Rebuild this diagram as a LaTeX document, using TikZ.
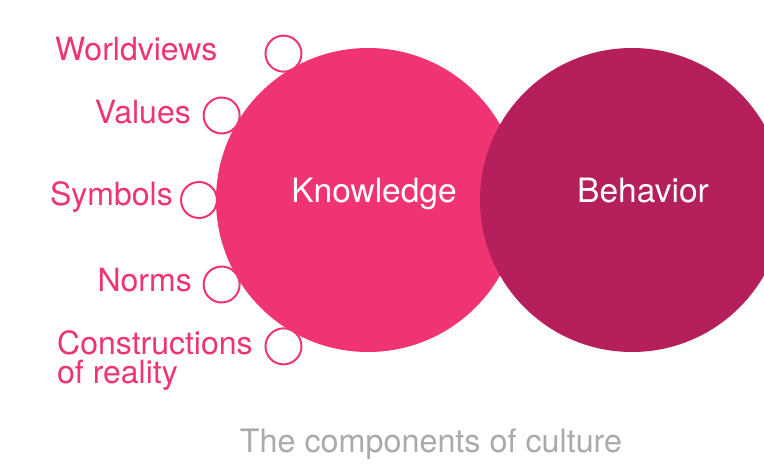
\documentclass[tikz,border=0pt]{standalone}
\usepackage{fontspec}
\setmainfont{TeX Gyre Heros}
\definecolor{knowpink}{RGB}{239,51,115}
\definecolor{behavred}{RGB}{181,31,91}
\definecolor{captiongray}{RGB}{170,170,170}

\begin{document}
\begin{tikzpicture}[x=1pt,y=-1pt,
  bigcircle/.style={circle,inner sep=0pt,minimum size=304pt},
  dot/.style={circle,draw=knowpink,fill=white,line width=2pt,inner sep=0pt,minimum size=36pt},
  circlelabel/.style={text=white,inner sep=0pt,anchor=base,font=\fontsize{33.5}{34}\selectfont},
  sidelabel/.style={text=knowpink,inner sep=0pt,align=left,font=\fontsize{32}{29}\selectfont}]
\useasboundingbox (0,0) rectangle (764,464);
\clip (0,0) rectangle (764,464);
\node (knowledge) [bigcircle,fill=knowpink] at (368,200) {};
\node (behavior) [bigcircle,fill=behavred] at (632,200) {};
\node (knowtext) [circlelabel] at (374,202) {Knowledge};
\node (behavtext) [circlelabel] at (643,202) {Behavior};
% small rings round the knowledge circle
\foreach \ang/\nm in {240/worldviews,210/values,180/symbols,150/norms,120/constructions}
  \node (\nm) [dot] at ([shift={(\ang:169)}]knowledge.center) {};
\node (worldviewstext) [sidelabel,anchor=base west] at (55,60) {Worldviews};
\node (valuestext) [sidelabel,anchor=base east] at (191,123) {Values};
\node (symbolstext) [sidelabel,anchor=base east] at (173,205) {Symbols};
\node (normstext) [sidelabel,anchor=base east] at (192,291) {Norms};
\node (constructionstext) [sidelabel,anchor=base west] at (57,383) {Constructions\\of reality};
\node (caption) [text=captiongray,inner sep=0pt,anchor=base,font=\fontsize{32.3}{32}\selectfont] at (431,452) {The components of culture};
\end{tikzpicture}
\end{document}
